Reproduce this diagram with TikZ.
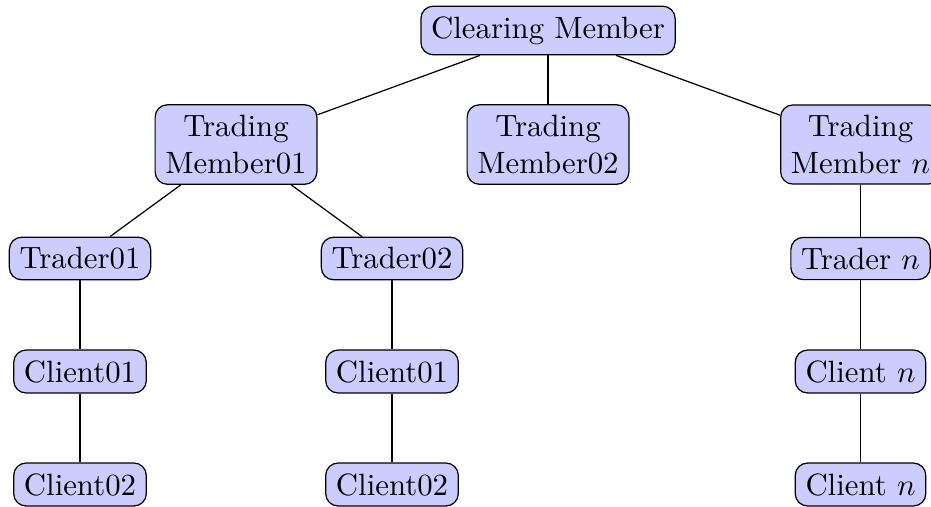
\documentclass[tikz,border=0pt]{standalone}
\begin{document}
\begin{tikzpicture}[x=0.3247pt,y=-0.3247pt,
  member/.style={draw, fill=blue!20, rounded corners, align=center},
  link/.style={draw}]
\useasboundingbox (0,0) rectangle (931,506);

% hierarchy: clearing member -> trading members -> traders -> clients
\node[member] (cm)  at (548,30.5)  {Clearing Member};

\node[member] (tm1) at (236,144.5) {Trading\\Member01};
\node[member] (tm2) at (548,144.5) {Trading\\Member02};
\node[member] (tmn) at (860.5,144.5) {Trading\\Member $n$};

\node[member] (tr1) at (80,258.5)    {Trader01};
\node[member] (tr2) at (392,258.5)   {Trader02};
\node[member] (trn) at (860.5,258.5) {Trader $n$};

\node[member] (c11) at (80,371.5)    {Client01};
\node[member] (c12) at (80,484.5)    {Client02};
\node[member] (c21) at (392,371.5)   {Client01};
\node[member] (c22) at (392,484.5)   {Client02};
\node[member] (cn1) at (860.5,371.5) {Client $n$};
\node[member] (cn2) at (860.5,484.5) {Client $n$};

% connectors
\path[link] (cm) -- (tm1);
\path[link] (cm) -- (tm2);
\path[link] (cm) -- (tmn);
\path[link] (tm1) -- (tr1);
\path[link] (tm1) -- (tr2);
\path[link] (tmn) -- (trn);
\path[link] (tr1) -- (c11);
\path[link] (c11) -- (c12);
\path[link] (tr2) -- (c21);
\path[link] (c21) -- (c22);
\path[link] (trn) -- (cn1);
\path[link] (cn1) -- (cn2);
\end{tikzpicture}
\end{document}
